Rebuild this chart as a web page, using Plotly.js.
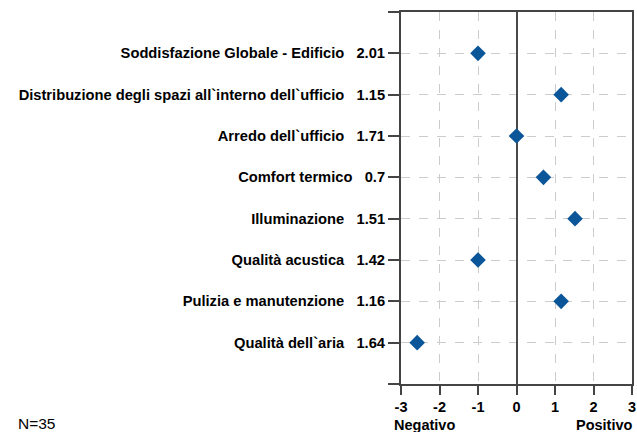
<!DOCTYPE html>
<html>
<head>
<meta charset="utf-8">
<script src="https://cdn.plot.ly/plotly-3.0.1.min.js"></script>
<style>html,body{margin:0;padding:0;background:#fff;}#chart{width:637px;height:432px;}</style>
</head>
<body>
<div id="chart"></div>
<script>
var categories = [
  "Soddisfazione Globale - Edificio",
  "Distribuzione degli spazi all`interno dell`ufficio",
  "Arredo dell`ufficio",
  "Comfort termico",
  "Illuminazione",
  "Qualità acustica",
  "Pulizia e manutenzione",
  "Qualità dell`aria"
];
var labelValues = ["2.01", "1.15", "1.71", "0.7", "1.51", "1.42", "1.16", "1.64"];
var scores = [-1, 1.16, 0, 0.7, 1.52, -1, 1.16, -2.58];
var xTicks = [-3, -2, -1, 0, 1, 2, 3];
var sampleNote = "N=35";

var pos = categories.map(function(_, i){ return i; });
var tickText = categories.map(function(c, i){ return c + "\u00a0\u00a0\u00a0" + labelValues[i]; });
var FONT = "Liberation Sans, Arial, sans-serif";

var trace = {
  type: "scatter",
  mode: "markers",
  x: scores,
  y: pos,
  marker: {symbol: "diamond", size: 12, color: "#0a5698", line: {width: 0}},
  hoverinfo: "skip",
  showlegend: false
};

var layout = {
  width: 637, height: 432,
  margin: {l: 401, r: 5, t: 12, b: 48, pad: 0},
  paper_bgcolor: "#fff", plot_bgcolor: "#fff",
  font: {family: FONT, size: 14.7, color: "#000"},
  xaxis: {
    range: [-3, 3], tickvals: xTicks, ticktext: xTicks.map(String),
    showgrid: true, gridcolor: "#cccccc", griddash: "dash", gridwidth: 1,
    zeroline: true, zerolinecolor: "#4a4a4a", zerolinewidth: 2,
    showline: true, linecolor: "#444", linewidth: 2, mirror: true,
    ticks: "outside", ticklen: 9, tickwidth: 2, tickcolor: "#444",
    tickfont: {family: FONT, size: 14.5, color: "#000", weight: "bold"},
    fixedrange: true
  },
  yaxis: {
    range: [8, -1],
    tickvals: [-1].concat(pos, [8]),
    ticktext: [""].concat(tickText, [""]),
    showgrid: true, gridcolor: "#cccccc", griddash: "dash", gridwidth: 1,
    zeroline: false,
    showline: true, linecolor: "#444", linewidth: 2, mirror: true,
    ticks: "outside", ticklen: 11, tickwidth: 2, tickcolor: "#444",
    tickfont: {family: FONT, size: 14.7, color: "#000", weight: "bold"},
    fixedrange: true
  },
  annotations: [
    {text: "<b>Negativo</b>", xref: "paper", yref: "paper", x: -0.04, y: -0.11, xanchor: "left", yanchor: "middle", showarrow: false, font: {family: FONT, size: 14.5, color: "#000"}},
    {text: "<b>Positivo</b>", xref: "paper", yref: "paper", x: 1.015, y: -0.11, xanchor: "right", yanchor: "middle", showarrow: false, font: {family: FONT, size: 14.5, color: "#000"}},
    {text: sampleNote, xref: "paper", yref: "paper", x: -1.668, y: -0.105, xanchor: "left", yanchor: "middle", showarrow: false, font: {family: FONT, size: 15.5, color: "#000"}}
  ]
};

Plotly.newPlot("chart", [trace], layout, {displayModeBar: false, staticPlot: true});
</script>
</body>
</html>
